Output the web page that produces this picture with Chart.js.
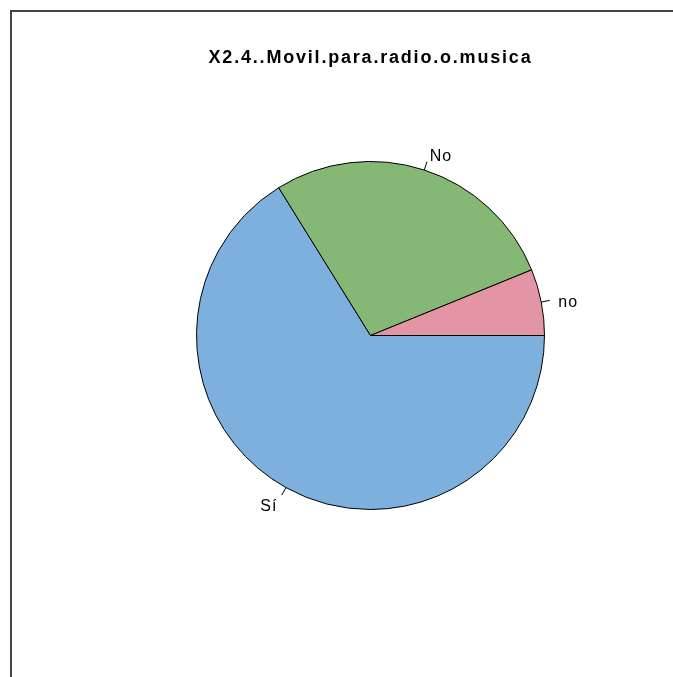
<!DOCTYPE html>
<html>
<head>
<meta charset="utf-8">
<script src="https://cdn.jsdelivr.net/npm/chart.js@4/dist/chart.umd.min.js"></script>
<style>
    html, body { margin: 0; padding: 0; background: #fff; }
    canvas { display: block; }
</style>
</head>
<body>
<canvas id="pieChart" width="673" height="677"></canvas>
<script>
// data (R pie draws counter-clockwise from 3 o'clock: no, No, Sí)
const categories = ['Sí', 'No', 'no'];
const counts = [43, 18, 4];
const sliceColors = ['#7DB0DD', '#86B875', '#E495A5'];
const chartTitle = 'X2.4..Movil.para.radio.o.musica';

// frame lines on the top and left like the original device region
const framePlugin = {
    id: 'frame',
    beforeDraw: function (chart) {
        const ctx = chart.ctx;
        ctx.save();
        ctx.strokeStyle = '#444';
        ctx.lineWidth = 2;
        ctx.beginPath();
        ctx.moveTo(11, chart.height);
        ctx.lineTo(11, 11);
        ctx.lineTo(chart.width, 11);
        ctx.stroke();
        ctx.restore();
        // wider spacing for the title, reset before the slices
        ctx.letterSpacing = '1.8px';
    },
    beforeDatasetsDraw: function (chart) {
        chart.ctx.letterSpacing = '0px';
    }
};

// labels outside the slices with small tick marks, R style
const outsideLabels = {
    id: 'outsideLabels',
    afterDatasetsDraw: function (chart) {
        const ctx = chart.ctx;
        const meta = chart.getDatasetMeta(0);
        ctx.save();
        ctx.strokeStyle = '#000';
        ctx.lineWidth = 1;
        ctx.fillStyle = '#000';
        ctx.font = '16px "Liberation Sans", Arial, sans-serif';
        ctx.letterSpacing = '1px';
        ctx.textBaseline = 'middle';
        meta.data.forEach(function (arc, i) {
            const mid = (arc.startAngle + arc.endAngle) / 2;
            const r = arc.outerRadius;
            const c = Math.cos(mid), s = Math.sin(mid);
            ctx.beginPath();
            ctx.moveTo(arc.x + r * c, arc.y + r * s);
            ctx.lineTo(arc.x + r * 1.05 * c, arc.y + r * 1.05 * s);
            ctx.stroke();
            ctx.textAlign = c > 0 ? 'left' : 'right';
            ctx.fillText(categories[i], arc.x + r * 1.1 * c, arc.y + r * 1.1 * s + 3.5);
        });
        ctx.restore();
    }
};

new Chart(document.getElementById('pieChart').getContext('2d'), {
    type: 'pie',
    data: {
        labels: categories,
        datasets: [{
            data: counts,
            backgroundColor: sliceColors,
            borderColor: '#000',
            borderWidth: 1
        }]
    },
    options: {
        responsive: false,
        animation: false,
        rotation: 90,
        layout: {
            padding: { left: 195, right: 127, top: 0, bottom: 167 }
        },
        plugins: {
            legend: { display: false },
            tooltip: { enabled: false },
            title: {
                display: true,
                text: chartTitle,
                color: '#000',
                font: { family: '"Liberation Sans", Arial, sans-serif', size: 18, weight: 'bold', lineHeight: 1.2 },
                padding: { top: 47, bottom: 92.4 }
            }
        }
    },
    plugins: [framePlugin, outsideLabels]
});
</script>
</body>
</html>
